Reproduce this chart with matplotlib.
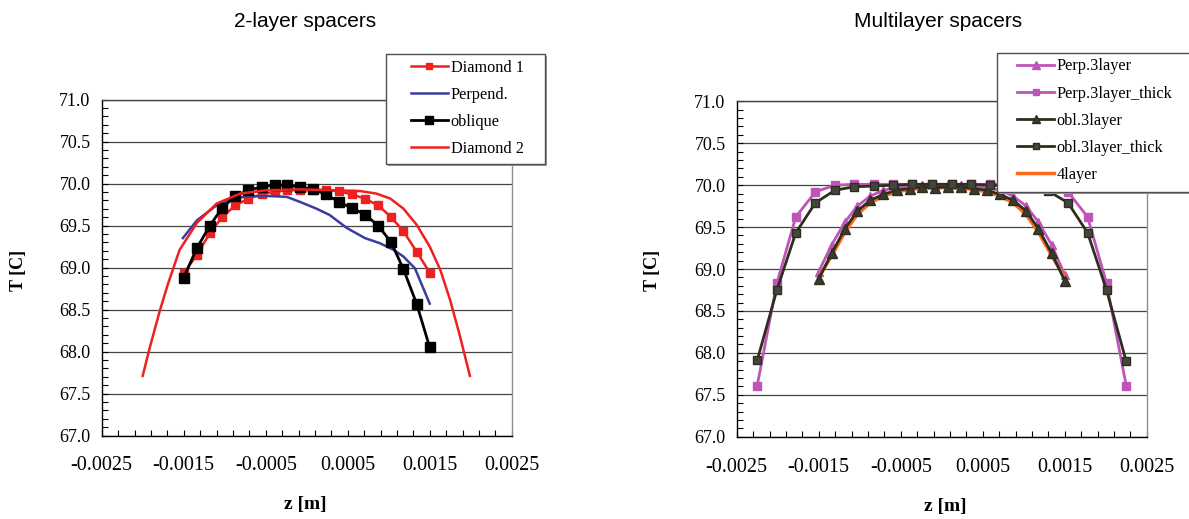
import numpy as np
import matplotlib
matplotlib.use("Agg")
import matplotlib.pyplot as plt
from matplotlib.ticker import FixedLocator, FormatStrFormatter
from matplotlib.patches import Rectangle

plt.rcParams['font.family'] = ['Liberation Serif', 'DejaVu Serif']
plt.rcParams['axes.unicode_minus'] = False

# z positions [m]
z20 = [-0.0015, -0.00134, -0.00118, -0.00103, -0.00087, -0.00071, -0.00055, -0.00039, -0.00024, -0.00008,
       0.00008, 0.00024, 0.00039, 0.00055, 0.00071, 0.00087, 0.00103, 0.00118, 0.00134, 0.0015]
z_wide = [-0.00225, -0.00201, -0.00178, -0.00154, -0.00130, -0.00107, -0.00083, -0.00059, -0.00036, -0.00012,
          0.00012, 0.00036, 0.00059, 0.00083, 0.00107, 0.00130, 0.00154, 0.00178, 0.00201, 0.00225]

# 2-layer spacers
diamond1 = [68.93, 69.15, 69.41, 69.60, 69.74, 69.82, 69.87, 69.90, 69.92, 69.92,
            69.92, 69.92, 69.91, 69.87, 69.82, 69.74, 69.60, 69.43, 69.19, 68.94]
oblique = [68.88, 69.23, 69.50, 69.71, 69.85, 69.92, 69.96, 69.98, 69.98, 69.96,
           69.93, 69.87, 69.78, 69.71, 69.63, 69.50, 69.30, 68.98, 68.57, 68.05]
z_perp = [-0.00151, -0.00134, -0.00110, -0.00090, -0.00069, -0.00041, -0.00024, -0.00008, 0.00012,
          0.00028, 0.00049, 0.00071, 0.00089, 0.00106, 0.00118, 0.00132, 0.00150]
perpend = [69.35, 69.56, 69.74, 69.82, 69.85, 69.85, 69.84, 69.78, 69.70,
           69.625, 69.47, 69.35, 69.29, 69.21, 69.13, 68.99, 68.57]
z_d2 = [-0.0020, -0.00191, -0.00179, -0.00169, -0.00155, -0.00134, -0.00110, -0.00081, -0.00049, -0.00008,
        0.00032, 0.00065, 0.00085, 0.00102, 0.00118, 0.00134, 0.00150, 0.00163, 0.00175, 0.00187, 0.00199]
diamond2 = [67.71, 68.06, 68.49, 68.81, 69.21, 69.53, 69.76, 69.88, 69.92, 69.93,
            69.92, 69.91, 69.88, 69.82, 69.70, 69.51, 69.25, 68.97, 68.61, 68.18, 67.71]

# multilayer spacers
perp3 = [68.97, 69.29, 69.56, 69.75, 69.87, 69.94, 69.97, 69.99, 70.00, 70.00,
         70.00, 70.00, 69.99, 69.97, 69.94, 69.87, 69.75, 69.56, 69.29, 68.93]
perp3_thick = [67.61, 68.83, 69.62, 69.92, 70.00, 70.01, 70.01, 70.01, 70.01, 70.01,
               70.01, 70.01, 70.01, 70.01, 70.01, 70.00, 69.92, 69.62, 68.83, 67.61]
obl3 = [68.88, 69.19, 69.48, 69.69, 69.82, 69.89, 69.94, 69.96, 69.98, 69.97,
        69.98, 69.98, 69.96, 69.94, 69.89, 69.82, 69.69, 69.48, 69.19, 68.86]
obl3_thick = [67.91, 68.75, 69.43, 69.79, 69.94, 69.98, 69.99, 70.00, 70.01, 70.01,
              70.01, 70.01, 70.00, 69.99, 69.98, 69.93, 69.79, 69.43, 68.75, 67.90]
layer4 = [68.90, 69.16, 69.44, 69.65, 69.79, 69.87, 69.92, 69.95, 69.96, 69.97,
          69.97, 69.96, 69.95, 69.92, 69.87, 69.79, 69.65, 69.44, 69.16, 68.90]

x_labels = [-0.0025, -0.0015, -0.0005, 0.0005, 0.0015, 0.0025]

W, H = 1189, 519
fig = plt.figure(figsize=(W / 100, H / 100), dpi=100)


def px(x0, y0, x1, y1):
    return [x0 / W, 1 - y1 / H, (x1 - x0) / W, (y1 - y0) / H]


def style_axes(ax):
    ax.set_xlim(-0.0025, 0.0025)
    ax.set_ylim(67.0, 71.0)
    ax.xaxis.set_major_locator(FixedLocator(x_labels))
    ax.xaxis.set_minor_locator(FixedLocator(np.arange(-0.0025, 0.00251, 0.0002)))
    ax.xaxis.set_major_formatter(FormatStrFormatter('%.4f'))
    ax.yaxis.set_major_locator(FixedLocator(np.arange(67.0, 71.01, 0.5)))
    ax.yaxis.set_minor_locator(FixedLocator(np.arange(67.0, 71.01, 0.1)))
    ax.yaxis.set_major_formatter(FormatStrFormatter('%.1f'))
    ax.tick_params(axis='x', which='both', direction='in', length=4, width=0.8, pad=15, labelsize=14.5)
    ax.tick_params(axis='y', which='both', direction='in', length=4, width=0.8, pad=8, labelsize=13)
    ax.grid(axis='y', which='major', color='#444444', lw=0.9)
    ax.set_axisbelow(True)
    ax.spines['left'].set_color('black')
    ax.spines['bottom'].set_color('black')
    ax.spines['top'].set_color('#444444')
    ax.spines['right'].set_color('#909090')
    for s in ax.spines.values():
        s.set_linewidth(1.0)


# ---- left chart
ax1 = fig.add_axes(px(101.7, 99.5, 511.7, 435.5))
style_axes(ax1)
l1, = ax1.plot(z20, diamond1, color='#EE2020', lw=1.8, marker='s', ms=5.5, label='Diamond 1')
l2, = ax1.plot(z_perp, perpend, color='#3A3C9E', lw=1.8, label='Perpend.')
l3, = ax1.plot(z20, oblique, color='black', lw=2, marker='s', ms=6.5, label='oblique')
l4, = ax1.plot(z_d2, diamond2, color='#EE2020', lw=1.8, label='Diamond 2')

# ---- right chart
ax2 = fig.add_axes(px(736.7, 101.3, 1146.7, 436.7))
style_axes(ax2)
mag = '#BF55B8'
dark = '#2E2E1E'
r1, = ax2.plot(z20, perp3, color=mag, lw=2, marker='^', ms=6, label='Perp.3layer', zorder=2)
r2, = ax2.plot(z_wide, perp3_thick, color=mag, lw=2, marker='s', ms=5.5, label='Perp.3layer_thick', zorder=2)
r5, = ax2.plot(z20, layer4, color='#FF6A1A', lw=2.5, label='4layer', zorder=2.5)
r3, = ax2.plot(z20, obl3, color=dark, lw=2, marker='^', ms=6.5, mfc='#3A3A30', mec=dark,
               label='obl.3layer', zorder=3)
r4, = ax2.plot(z_wide, obl3_thick, color=dark, lw=2, marker='s', ms=5.8, mfc='#454540', mec=dark,
               label='obl.3layer_thick', zorder=3)

# legend boxes (white, with a light shadow)
for x0, y0, x1, y1 in [(386, 54, 545, 164), (996.7, 52.7, 1200, 191.7)]:
    fig.add_artist(Rectangle(((x0 + 2) / W, 1 - (y1 + 2) / H), (x1 - x0) / W, (y1 - y0) / H,
                             transform=fig.transFigure, facecolor='#9a9a9a', edgecolor='none', zorder=4))
    fig.add_artist(Rectangle((x0 / W, 1 - y1 / H), (x1 - x0) / W, (y1 - y0) / H,
                             transform=fig.transFigure, facecolor='white', edgecolor='#505050',
                             lw=1.0, zorder=5))

leg_kw = dict(loc='upper left', frameon=False, borderpad=0, borderaxespad=0,
              handlelength=2.3, handletextpad=0.15, labelspacing=0.68, markerscale=0.85,
              prop={'family': 'Liberation Serif', 'size': 11.7})
lg1 = fig.legend(handles=[l1, l2, l3, l4], bbox_to_anchor=(410.7 / W, 1 - 60 / H),
                 bbox_transform=fig.transFigure, **leg_kw)
lg1.set_zorder(10)
lg2 = fig.legend(handles=[r1, r2, r3, r4, r5], bbox_to_anchor=(1017 / W, 1 - 58.5 / H),
                 bbox_transform=fig.transFigure, **leg_kw)
lg2.set_zorder(10)

# titles and axis labels
fig.text(305 / W, 1 - 22 / H, '2-layer spacers', ha='center', va='center',
         family='Liberation Sans', fontsize=15)
fig.text(938 / W, 1 - 22 / H, 'Multilayer spacers', ha='center', va='center',
         family='Liberation Sans', fontsize=15)
fig.text(18 / W, 1 - 270 / H, 'T [C]', rotation=90, ha='center', va='center',
         fontsize=13, weight='bold')
fig.text(652 / W, 1 - 270 / H, 'T [C]', rotation=90, ha='center', va='center',
         fontsize=13, weight='bold')
fig.text(305 / W, 1 - 505 / H, 'z [m]', ha='center', va='center', fontsize=14, weight='bold')
fig.text(945 / W, 1 - 507 / H, 'z [m]', ha='center', va='center', fontsize=14, weight='bold')

fig.savefig('out.png', dpi=100)
